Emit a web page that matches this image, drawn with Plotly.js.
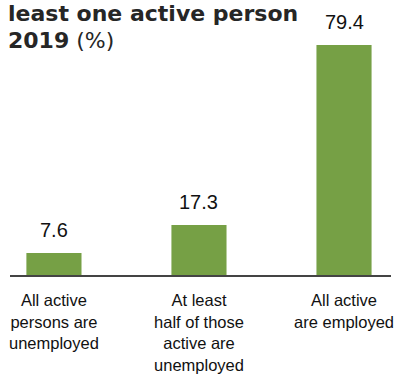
<!DOCTYPE html>
<html><head><meta charset="utf-8">
<script src="https://cdn.plot.ly/plotly-3.0.1.min.js"></script>
<style>html,body{margin:0;padding:0;background:#fff}#c{width:395px;height:375px}</style>
</head><body><div id="c"></div>
<script>
const categories = ["All active<br>persons are<br>unemployed", "At least<br>half of those<br>active are<br>unemployed", "All active<br>are employed"];
const values = [7.6, 17.3, 79.4];
const valueLabels = ["7.6", "17.3", "79.4"];
const titleLine1 = "least one active person";
const titleLine2 = "<b>2019</b> <span style='font-weight:normal'>(%)</span>";

const xIdx = categories.map((c, i) => i);
const data = [{
  type: 'bar', x: xIdx, y: values, width: 0.38,
  marker: {color: '#76a045'}, hoverinfo: 'none'
}];
const ann = values.map((v, i) => ({
  x: i, y: v, text: valueLabels[i], showarrow: false, xref: 'x', yref: 'y',
  yanchor: 'bottom', yshift: 10,
  font: {family: 'Liberation Sans, Arial, sans-serif', size: 20, color: '#111'}
}));
ann.push({xref: 'paper', yref: 'paper', x: -0.008, xanchor: 'left', y: 1.0536, yanchor: 'top',
  borderpad: 0,
  text: '<b>' + titleLine1 + '</b>', showarrow: false,
  font: {family: 'DejaVu Sans, sans-serif', size: 22, color: '#262626'}});
ann.push({xref: 'paper', yref: 'paper', x: -0.008, xanchor: 'left', y: 0.952, yanchor: 'top',
  borderpad: 0,
  text: titleLine2, showarrow: false,
  font: {family: 'DejaVu Sans, sans-serif', size: 22, color: '#262626'}});

const layout = {
  width: 395, height: 375,
  margin: {l: 10, r: 4, t: 14, b: 100},
  paper_bgcolor: '#fff', plot_bgcolor: '#fff',
  showlegend: false,
  xaxis: {
    range: [-0.303, 2.324], tickvals: xIdx, ticktext: categories,
    showgrid: false, zeroline: false, showline: true, linecolor: '#444', linewidth: 1.5,
    ticks: 'outside', ticklen: 10, tickcolor: 'rgba(0,0,0,0)',
    tickfont: {family: 'Liberation Sans, Arial, sans-serif', size: 16.5, color: '#111'},
    fixedrange: true
  },
  yaxis: {range: [0, 90.1], visible: false, fixedrange: true},
  annotations: ann
};
Plotly.newPlot('c', data, layout, {staticPlot: true});
</script></body></html>
